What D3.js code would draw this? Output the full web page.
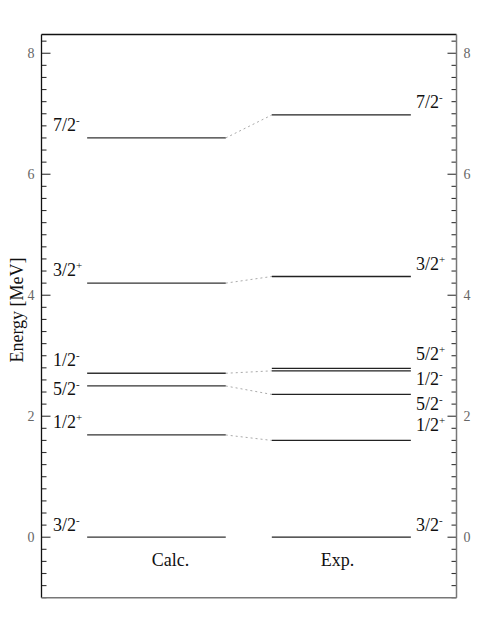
<!DOCTYPE html>
<html>
<head>
<meta charset="utf-8">
<script src="https://cdn.jsdelivr.net/npm/d3@7"></script>
<style>
html,body{margin:0;padding:0;background:#fff;}
svg{display:block;font-family:"Liberation Serif","Times New Roman",serif;}
</style>
</head>
<body>
<svg id="chart" width="498" height="638"></svg>
<script>
// ---- data ----
const calcSpins   = ["3/2", "1/2", "5/2", "1/2", "3/2", "7/2"];
const calcParity  = ["-",   "+",   "-",   "-",   "+",   "-"];
const calcEnergy  = [0.00,  1.69,  2.50,  2.71,  4.20,  6.60];

const expSpins    = ["3/2", "1/2", "5/2", "1/2", "5/2", "3/2", "7/2"];
const expParity   = ["-",   "+",   "-",   "-",   "+",   "+",   "-"];
const expEnergy   = [0.00,  1.60,  2.36,  2.75,  2.79,  4.31,  6.98];

// connectors: calc index -> exp index
const links = [[1, 1], [2, 2], [3, 3], [4, 5], [5, 6]];

const yTicks = [0, 2, 4, 6, 8];
const columnNames = ["Calc.", "Exp."];

// ---- layout (pixels, not data) ----
const calcLabelDy = [-6, -7, 9, -7, -7, -7];
const expLabelDy  = [-6, -9, 16, 14, -8, -6, -7];

const svg = d3.select("#chart");
const L = 41.5, R = 456.5, T = 34.5, B = 597.7;

const y = d3.scaleLinear().domain([-1, 8.31]).range([B, T]);
const x = d3.scaleLinear().domain([0, 1]).range([L, R]);
const col = { calc: [0.110, 0.444], exp: [0.555, 0.890] };

const serif = "Liberation Serif";

// minor / major ticks
const minor = d3.range(-5, 42).map(i => +(i * 0.2).toFixed(2));
const g = svg.append("g");

minor.forEach(v => {
  const isMajor = yTicks.includes(v);
  const len = isMajor ? 9 : 5;
  g.append("line").attr("x1", L).attr("x2", L + len)
    .attr("y1", y(v)).attr("y2", y(v))
    .attr("stroke", "#333").attr("stroke-width", 1.1);
  g.append("line").attr("x1", R - len).attr("x2", R)
    .attr("y1", y(v)).attr("y2", y(v))
    .attr("stroke", "#333").attr("stroke-width", 1.1);
});

yTicks.forEach(v => {
  g.append("text").attr("x", L - 7).attr("y", y(v)).attr("dy", "0.35em")
    .attr("text-anchor", "end").attr("font-family", serif).attr("font-size", 14)
    .attr("fill", "#666").text(v);
  g.append("text").attr("x", R + 7).attr("y", y(v)).attr("dy", "0.35em")
    .attr("text-anchor", "start").attr("font-family", serif).attr("font-size", 14)
    .attr("fill", "#666").text(v);
});

// frame
svg.append("line").attr("x1", L).attr("x2", R).attr("y1", T).attr("y2", T)
  .attr("stroke", "#111").attr("stroke-width", 1.3);
svg.append("line").attr("x1", L).attr("x2", L).attr("y1", T).attr("y2", B)
  .attr("stroke", "#111").attr("stroke-width", 1.3);
svg.append("line").attr("x1", R).attr("x2", R).attr("y1", T).attr("y2", B)
  .attr("stroke", "#777").attr("stroke-width", 1.5);
svg.append("line").attr("x1", L).attr("x2", R).attr("y1", B).attr("y2", B)
  .attr("stroke", "#777").attr("stroke-width", 1.5);

// connectors
svg.append("g").selectAll("line").data(links).join("line")
  .attr("x1", x(col.calc[1])).attr("x2", x(col.exp[0]))
  .attr("y1", d => y(calcEnergy[d[0]])).attr("y2", d => y(expEnergy[d[1]]))
  .attr("stroke", "#aaa").attr("stroke-width", 1).attr("stroke-dasharray", "2,3");

// levels
svg.append("g").selectAll("line").data(calcEnergy).join("line")
  .attr("x1", x(col.calc[0])).attr("x2", x(col.calc[1]))
  .attr("y1", d => y(d)).attr("y2", d => y(d))
  .attr("stroke", "#333").attr("stroke-width", 1.3);
svg.append("g").selectAll("line").data(expEnergy).join("line")
  .attr("x1", x(col.exp[0])).attr("x2", x(col.exp[1]))
  .attr("y1", d => y(d)).attr("y2", d => y(d))
  .attr("stroke", "#222").attr("stroke-width", 1.3);

function label(xp, yp, spin, par) {
  const t = svg.append("text").attr("x", xp).attr("y", yp)
    .attr("font-family", serif).attr("font-size", 18).attr("fill", "#111");
  t.append("tspan").text(spin);
  t.append("tspan").attr("font-size", 11).attr("dy", -7)
    .text(par === "+" ? "+" : "-");
}
calcEnergy.forEach((e, i) => label(53, y(e) + calcLabelDy[i], calcSpins[i], calcParity[i]));
expEnergy.forEach((e, i) => label(416, y(e) + expLabelDy[i], expSpins[i], expParity[i]));

// column names
svg.append("text").attr("x", 170.5).attr("y", 566).attr("text-anchor", "middle")
  .attr("font-family", serif).attr("font-size", 18).attr("fill", "#111").text(columnNames[0]);
svg.append("text").attr("x", 337.5).attr("y", 566).attr("text-anchor", "middle")
  .attr("font-family", serif).attr("font-size", 18).attr("fill", "#111").text(columnNames[1]);

// axis title
svg.append("text").attr("transform", "translate(23,310) rotate(-90)")
  .attr("text-anchor", "middle").attr("font-family", serif).attr("font-size", 18)
  .attr("fill", "#111").text("Energy [MeV]");
</script>
</body>
</html>
